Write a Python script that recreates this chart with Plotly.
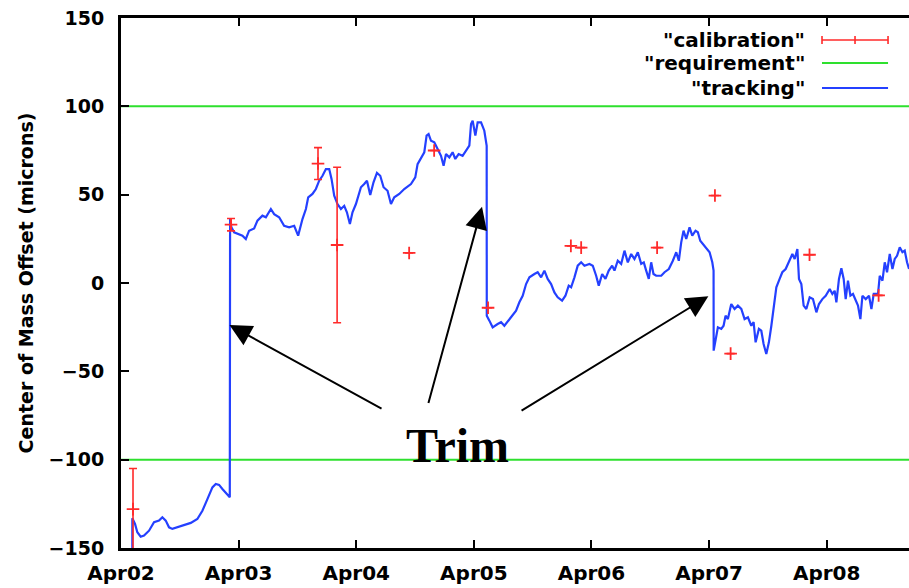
import pandas as pd
import plotly.graph_objects as go

BASE = pd.Timestamp("2008-04-02 00:00")

# tracking: hours since Apr02 00:00, offset in microns
track_h = [2.31, 2.31, 2.86, 3.33, 4.02, 4.70, 5.72, 6.74, 7.76, 8.44, 9.13, 9.80, 10.48, 11.50, 12.87,
           14.24, 15.58, 16.61, 17.63, 18.65, 19.34, 20.02, 20.69, 21.39, 22.20,
           22.26, 22.53, 23.08, 24.10, 24.78, 25.47, 26.14, 27.17, 27.84, 28.86, 29.56, 30.58, 31.25,
           32.27, 33.29, 34.31, 35.34, 36.15, 37.03, 37.73, 38.20, 39.07, 39.77, 40.44, 41.12, 41.81,
           42.49, 42.96, 43.51, 44.18, 44.88, 45.55, 46.10, 46.71, 47.24, 47.94, 48.96, 49.63, 50.19,
           50.86, 51.53, 52.23, 52.90, 53.58, 54.39, 55.09, 55.76, 56.78, 57.80, 59.17, 60.05, 60.52,
           61.22, 61.89, 62.36, 62.77, 63.26, 63.93, 64.61, 65.30, 65.83, 66.32, 67.00, 67.67, 68.22,
           68.90, 69.71, 70.53, 71.08, 71.43, 71.76, 72.31, 72.78, 73.47, 74.14, 74.62,
           74.64, 75.17, 75.84, 76.86, 77.56, 78.23, 79.25, 79.93, 80.62, 81.29, 81.97, 82.66, 83.34,
           84.36, 85.03, 85.73, 86.40, 87.07, 87.77, 88.44, 89.12, 90.01, 90.69, 91.36, 91.85, 92.53,
           93.20, 93.90, 94.57, 95.59, 96.27, 96.96, 97.49, 98.19, 98.86, 99.53, 100.23, 100.70,
           101.37, 102.07, 102.74, 103.42, 104.11, 104.78, 105.46, 106.15, 106.68, 107.17, 107.70,
           108.19, 108.66, 109.21, 110.24, 110.91, 111.79, 112.61, 113.30, 113.83, 114.32, 114.79,
           115.34, 116.02, 116.57, 117.24, 117.71, 118.20, 118.73, 119.43, 120.11, 120.66, 120.92,
           120.94, 121.47, 121.80, 122.49, 122.96, 123.37, 123.84, 124.53, 125.21, 125.88, 126.58,
           127.25, 127.93, 128.62, 129.09, 129.50, 130.17, 130.66, 131.13, 131.68, 132.21, 132.71,
           133.17, 133.73, 134.40, 134.95, 135.63, 136.30, 137.00, 137.47, 138.02, 138.35, 138.83,
           139.30, 139.85, 140.53, 141.20, 141.90, 142.43, 143.12, 143.80, 144.62, 145.16, 145.63,
           145.98, 146.51, 147.00, 147.47, 147.88, 148.35, 148.84, 149.37, 149.92, 150.39, 150.88,
           151.29, 151.97, 152.64, 153.13, 153.60, 154.48, 154.83, 155.38, 155.85, 156.32, 156.87,
           157.42, 157.89, 158.36, 158.91, 159.46, 159.93, 160.40, 160.81]
track_y = [-155, -133.2, -136.4, -141.1, -143.6, -143.0, -140.2, -135.4, -134.5, -132.6, -134.5, -138.3,
           -139.2, -138.3, -137.4, -135.8, -133.6, -128.9, -122.3, -115.7, -113.8, -114.3, -116.6,
           -118.8, -121.3,
           36.2, 31.5, 28.7, 27.7, 26.8, 24.9, 29.6, 30.9, 35.3, 38.1, 37.2, 41.9, 39.0,
           37.2, 32.4, 31.5, 32.4, 26.8, 36.2, 41.9, 48.5, 50.4, 53.2, 57.9, 60.7, 64.5,
           64.5, 58.9, 49.4, 44.7, 41.9, 43.7, 40.0, 33.4, 40.0, 44.7, 54.2, 56.0, 57.9,
           49.8, 57.0, 62.3, 60.7, 54.2, 52.2, 44.7, 48.5, 50.4, 53.2, 56.0, 59.8, 67.3,
           71.1, 74.0, 83.4, 84.3, 80.5, 79.6, 75.8, 72.0, 66.4, 73.0, 71.1, 74.0, 70.2,
           73.0, 72.0, 75.4, 77.7, 90.0, 91.8, 83.4, 90.9, 90.9, 86.2, 77.7,
           -18.5, -21.3, -25.1, -23.2, -22.2, -24.2, -20.4, -18.5, -15.7, -10.9, -7.2, -0.6, 3.2,
           5.1, 6.1, 3.2, 7.0, 2.3, -0.6, -5.3, -8.1, -10.0, -7.2, -1.5, -2.4, 3.2,
           9.8, 11.7, 9.8, 10.8, 9.8, 4.1, -1.5, 5.1, 2.3, 7.0, 9.8, 7.0,
           12.6, 10.8, 18.3, 11.7, 16.4, 13.6, 17.4, 10.8, 11.7, 7.0, 2.3,
           11.7, 5.1, 4.1, 4.1, 6.1, 7.9, 12.6, 17.4, 12.6, 23.0, 29.6,
           24.9, 31.5, 26.8, 29.6, 28.7, 23.9, 22.1, 20.2, 17.4, 11.7, 7.0,
           -38.3, -29.8, -25.1, -26.0, -24.2, -18.5, -20.4, -11.9, -14.7, -12.8, -14.7,
           -20.4, -19.4, -24.2, -22.2, -33.6, -26.0, -27.0, -34.5, -40.2, -33.6, -24.2,
           -14.7, -2.4, 2.3, 6.1, 7.9, 11.7, 16.4, 13.6, 19.2, 2.3, -0.6,
           -12.8, -14.7, -8.1, -9.1, -16.6, -11.9, -9.1, -7.2, -3.4, -6.2, -4.4,
           -10.9, 2.3, 8.3, 2.3, -9.1, 1.3, -7.2, -6.2, -10.0, -12.8, -20.4,
           -7.2, -9.1, -7.2, -14.7, -6.2, -6.2, 4.1, 1.3, 11.7, 6.1, 16.4,
           7.9, 13.6, 15.4, 20.2, 17.4, 18.3, 11.7, 7.9]

# calibration points: hours, offset, error
calib_h = [2.45, 22.45, 40.2, 44.1, 58.8, 63.9, 74.9, 91.8, 93.9, 109.4, 121.2, 124.4, 140.5, 154.6]
calib_y = [-128, 33, 67.6, 21.5, 17, 75, -14, 21, 20, 20, 49.5, -40, 16, -7]
calib_err = [23, 3.5, 9, 44, 0, 0, 0, 0, 0, 0, 0, 0, 0, 0]

requirement = [100, -100]
x_range_h = [0, 160.8]
y_ticks = [-150, -100, -50, 0, 50, 100, 150]

legend_names = ['"calibration"', '"requirement"', '"tracking"']

# Trim arrows: (tip_h, tip_y, tail_h, tail_y)
arrows = [(22.14, -23.8, 53.47, -71.6),
          (73.67, 43.1, 62.65, -68.8),
          (119.86, -7.5, 81.43, -72.7)]

RED = "#ff2a2a"
GREEN = "#2ee02e"
BLUE = "#2440ff"
FONT = "DejaVu Sans"


def t(hours):
    return [BASE + pd.Timedelta(hours=h) for h in hours]


xr = t(x_range_h)

fig = go.Figure()

# requirement lines
req_x, req_y = [], []
for r in requirement:
    req_x += [xr[0], xr[1], None]
    req_y += [r, r, None]
fig.add_trace(go.Scatter(x=req_x, y=req_y, mode="lines", line=dict(color=GREEN, width=2),
                         showlegend=False, hoverinfo="skip"))

fig.add_trace(go.Scatter(x=t(track_h), y=track_y, mode="lines",
                         line=dict(color=BLUE, width=2.2), showlegend=False))

fig.add_trace(go.Scatter(x=t(calib_h), y=calib_y, mode="markers",
                         marker=dict(symbol="cross-thin", size=9, line=dict(color=RED, width=1.8), color=RED),
                         error_y=dict(type="data", array=calib_err, visible=True, color=RED,
                                      thickness=1.6, width=4),
                         showlegend=False))

# manual legend (text right-aligned, samples to the right)
L_TEXT_X = 0.8706
L_X0, L_X1 = 0.8896, 0.9734
L_ROWS = [0.9585, 0.9151, 0.8679]
L_COLS = [RED, GREEN, BLUE]
for name, yy, col in zip(legend_names, L_ROWS, L_COLS):
    fig.add_annotation(xref="paper", yref="paper", x=L_TEXT_X, y=yy, text=name, showarrow=False,
                       xanchor="right", yanchor="middle",
                       font=dict(family=FONT, size=20, color="black", weight="bold"))
    fig.add_shape(type="line", xref="paper", yref="paper", x0=L_X0, x1=L_X1, y0=yy, y1=yy,
                  line=dict(color=col, width=2 if col != RED else 1.6))
# error-bar sample caps and centre tick
for xx in [L_X0, (L_X0 + L_X1) / 2, L_X1]:
    fig.add_shape(type="line", xref="paper", yref="paper", xsizemode="scaled", ysizemode="pixel",
                  yanchor=L_ROWS[0], x0=xx, x1=xx, y0=-4, y1=4, line=dict(color=RED, width=1.6))

# Trim label and arrows
fig.add_annotation(xref="x", yref="y", x=BASE + pd.Timedelta(hours=68.6), y=-100,
                   text="<b>Trim</b>", showarrow=False, xanchor="center", yanchor="bottom", yshift=-14,
                   font=dict(family="Liberation Serif", size=48, color="black"))
for tip_h, tip_y, tail_h, tail_y in arrows:
    fig.add_annotation(xref="x", yref="y", axref="x", ayref="y",
                       x=BASE + pd.Timedelta(hours=tip_h), y=tip_y,
                       ax=BASE + pd.Timedelta(hours=tail_h), ay=tail_y,
                       text="", showarrow=True, arrowhead=2, arrowsize=2.2, arrowwidth=2,
                       arrowcolor="black", standoff=0, startstandoff=0)

fig.update_layout(
    width=909, height=588,
    margin=dict(l=121, r=0, t=18, b=40),
    paper_bgcolor="white", plot_bgcolor="white",
    showlegend=False,
    font=dict(family=FONT, color="black"),
)
fig.update_xaxes(range=xr, type="date", tickformat="%b%d", dtick=86400000,
                 tick0=BASE, showgrid=False, zeroline=False,
                 showline=True, linecolor="black", linewidth=3, mirror="ticks",
                 ticks="inside", ticklen=8, tickwidth=2, tickcolor="black",
                 tickfont=dict(family=FONT, size=20, weight="bold"), ticklabelstandoff=5)
fig.update_yaxes(range=[-150, 150], tickvals=y_ticks, showgrid=False, zeroline=False,
                 showline=True, linecolor="black", linewidth=3,
                 ticks="inside", ticklen=8, tickwidth=2, tickcolor="black",
                 tickfont=dict(family=FONT, size=19, weight="bold"), ticklabelstandoff=10,
                 title=dict(text="Center of Mass Offset (microns)", standoff=10,
                            font=dict(family=FONT, size=19, weight="bold")))

fig.write_html("out.html")
